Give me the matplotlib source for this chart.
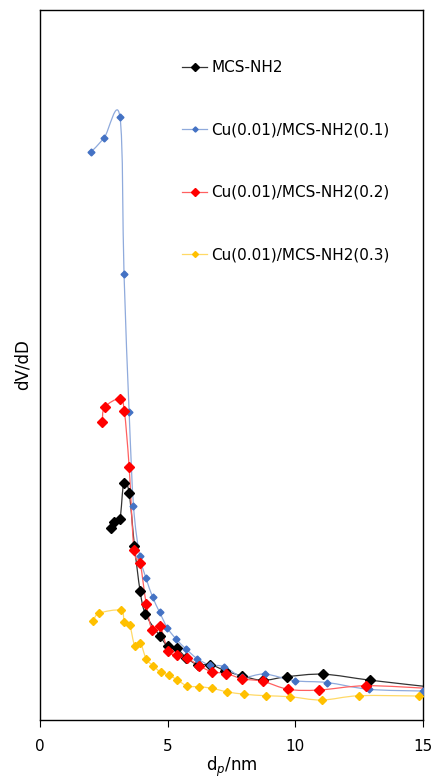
import numpy as np
import matplotlib.pyplot as plt
from matplotlib.path import Path
from matplotlib.patches import PathPatch
from matplotlib.lines import Line2D

# pore diameter (nm) and dV/dD (arbitrary units)
d_mcs = [2.79, 2.91, 3.13, 3.28, 3.49, 3.70, 3.92, 4.13, 4.70, 5.01, 5.35, 5.73,
         6.19, 6.67, 7.25, 7.93, 8.73, 9.67, 11.10, 12.94, 15.30]
v_mcs = [1.917, 1.985, 2.01, 2.37, 2.273, 1.737, 1.292, 1.06, 0.837, 0.737, 0.718, 0.623,
         0.552, 0.555, 0.493, 0.44, 0.397, 0.433, 0.458, 0.398, 0.33]

d_cu01 = [2.00, 2.51, 3.13, 3.29, 3.49, 3.66, 3.90, 4.15, 4.41, 4.68, 4.99, 5.33,
          5.72, 6.15, 6.64, 7.21, 7.93, 8.81, 9.97, 11.24, 12.90, 14.99]
v_cu01 = [5.68, 5.82, 6.03, 4.46, 3.08, 2.145, 1.645, 1.42, 1.23, 1.08, 0.92, 0.81,
          0.71, 0.615, 0.55, 0.535, 0.43, 0.46, 0.393, 0.375, 0.307, 0.29]

d_cu02 = [2.44, 2.53, 3.12, 3.30, 3.49, 3.68, 3.92, 4.16, 4.39, 4.70, 5.02, 5.38,
          5.75, 6.23, 6.73, 7.29, 7.93, 8.73, 9.73, 10.93, 12.77, 15.30]
v_cu02 = [2.983, 3.127, 3.213, 3.093, 2.533, 1.703, 1.57, 1.16, 0.902, 0.94, 0.69, 0.648,
          0.622, 0.543, 0.483, 0.465, 0.412, 0.387, 0.307, 0.30, 0.343, 0.315]

d_cu03 = [2.09, 2.31, 3.16, 3.30, 3.51, 3.71, 3.93, 4.16, 4.43, 4.73, 5.04, 5.38,
          5.77, 6.22, 6.74, 7.31, 8.00, 8.84, 9.79, 11.03, 12.50, 14.85]
v_cu03 = [0.993, 1.067, 1.097, 0.983, 0.953, 0.743, 0.77, 0.61, 0.543, 0.477, 0.45, 0.40,
          0.34, 0.333, 0.317, 0.283, 0.258, 0.243, 0.233, 0.20, 0.243, 0.24]

labels = ['MCS-NH2', 'Cu(0.01)/MCS-NH2(0.1)', 'Cu(0.01)/MCS-NH2(0.2)', 'Cu(0.01)/MCS-NH2(0.3)']
mark_col = ['#000000', '#4472C4', '#FF0000', '#FFC000']
line_col = ['#333333', '#8FAADC', '#FF6060', '#FFD966']
msize = [5.5, 3.5, 5.5, 4]


def smooth_path(x, y):
    # excel-like smoothed line: catmull-rom segments as cubic beziers
    pts = np.column_stack([x, y])
    verts = [pts[0]]
    codes = [Path.MOVETO]
    n = len(pts)
    for i in range(n - 1):
        p0 = pts[max(i - 1, 0)]
        p1 = pts[i]
        p2 = pts[i + 1]
        p3 = pts[min(i + 2, n - 1)]
        verts += [p1 + (p2 - p0) / 6, p2 - (p3 - p1) / 6, p2]
        codes += [Path.CURVE4] * 3
    return Path(verts, codes)


fig = plt.figure(figsize=(4.34, 7.79), dpi=100)
ax = fig.add_axes([0.0922, 0.0757, 0.8825, 0.9115])

series = [(d_mcs, v_mcs), (d_cu01, v_cu01), (d_cu02, v_cu02), (d_cu03, v_cu03)]
handles = []
for (x, y), lab, mc, lc, ms in zip(series, labels, mark_col, line_col, msize):
    ax.add_patch(PathPatch(smooth_path(x, y), fill=False, edgecolor=lc, lw=0.9, zorder=2))
    ax.plot(x, y, ls='none', marker='D', ms=ms, color=mc, zorder=3)
    handles.append(Line2D([], [], color=lc, lw=0.9, marker='D', ms=ms * 0.75,
                          markerfacecolor=mc, markeredgecolor=mc))

ax.set_xlim(0, 15)
ax.set_ylim(0, 7.1)
ax.set_xticks([0, 5, 10, 15])
ax.set_yticks([])
ax.tick_params(axis='x', direction='out', length=5, labelsize=11, pad=9)
for s in ax.spines.values():
    s.set_linewidth(1.0)

ax.set_xlabel(r'd$_{p}$/nm', fontsize=12, labelpad=0)
ax.set_ylabel('dV/dD', fontsize=12, labelpad=6)

ax.legend(handles, labels, loc='upper left', bbox_to_anchor=(0.352, 0.94),
          frameon=False, fontsize=11, labelspacing=3.1, handlelength=1.6,
          handletextpad=0.3, borderpad=0)

fig.savefig('out.png', dpi=100)
